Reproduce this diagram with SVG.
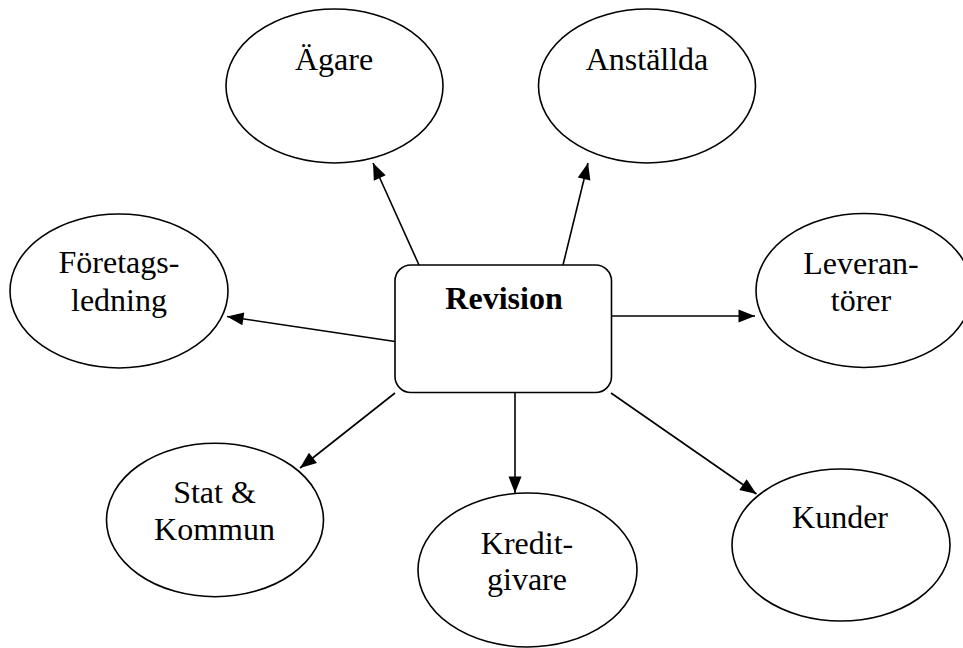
<svg xmlns="http://www.w3.org/2000/svg" width="963" height="648" viewBox="0 0 963 648">
<defs>
<marker id="ah" markerUnits="userSpaceOnUse" markerWidth="18" markerHeight="14" viewBox="0 0 17 14" refX="16.5" refY="7" orient="auto">
<polygon points="0,0.5 16.5,7 0,13.5" fill="#000"/>
</marker>
</defs>
<style>
.n ellipse{fill:#fff;stroke:#000;stroke-width:1.6}
.box{fill:#fff;stroke:#000;stroke-width:1.6}
text{font-family:"Liberation Serif","Times New Roman",serif;font-size:32px;fill:#000;text-anchor:middle}
.b{font-weight:bold}
#edges line{stroke:#000;stroke-width:1.6;marker-end:url(#ah)}
</style>
<rect width="963" height="648" fill="#fff"/>
<g id="edges">
<line x1="419" y1="265" x2="373" y2="163"/>
<line x1="563" y1="265" x2="588" y2="163"/>
<line x1="395" y1="341.5" x2="227" y2="316.5"/>
<line x1="611.5" y1="316" x2="755" y2="316"/>
<line x1="395" y1="393" x2="300" y2="468"/>
<line x1="515" y1="392.5" x2="515" y2="493"/>
<line x1="611" y1="393" x2="756.5" y2="494"/>
</g>
<g id="revision">
<rect class="box" x="395" y="265" width="216.5" height="127.5" rx="16"/>
<text class="b" x="504" y="309">Revision</text>
</g>
<g id="agare" class="n">
<ellipse cx="334.5" cy="86" rx="108.5" ry="77"/>
<text x="334" y="70">Ägare</text>
</g>
<g id="anstallda" class="n">
<ellipse cx="647" cy="86" rx="108.5" ry="77"/>
<text x="647" y="70">Anställda</text>
</g>
<g id="foretagsledning" class="n">
<ellipse cx="119" cy="291" rx="109" ry="77"/>
<text x="119" y="273">Företags-</text>
<text x="119" y="311">ledning</text>
</g>
<g id="leverantorer" class="n">
<ellipse cx="864" cy="290.5" rx="108" ry="77"/>
<text x="861" y="274">Leveran-</text>
<text x="861" y="311">törer</text>
</g>
<g id="statkommun" class="n">
<ellipse cx="215" cy="520" rx="108.5" ry="76.7"/>
<text x="214.5" y="503">Stat &amp;</text>
<text x="214.5" y="540">Kommun</text>
</g>
<g id="kreditgivare" class="n">
<ellipse cx="527.5" cy="570" rx="109.5" ry="77"/>
<text x="527" y="554">Kredit-</text>
<text x="527" y="590">givare</text>
</g>
<g id="kunder" class="n">
<ellipse cx="841" cy="545" rx="109" ry="76"/>
<text x="840" y="528">Kunder</text>
</g>
</svg>
